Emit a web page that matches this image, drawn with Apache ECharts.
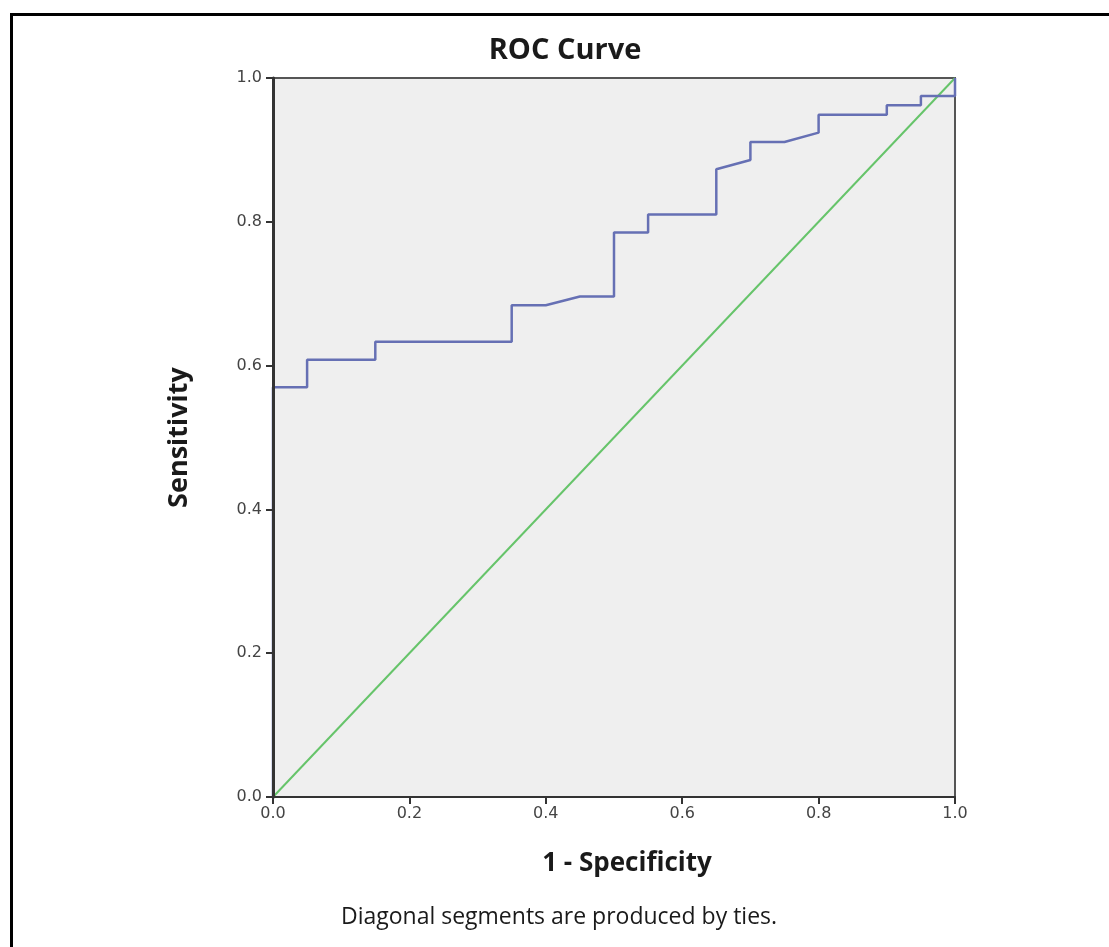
<!DOCTYPE html>
<html>
<head>
<meta charset="utf-8">
<script src="https://cdn.jsdelivr.net/npm/echarts@6/dist/echarts.min.js"></script>
<style>
html,body{margin:0;padding:0;background:#fff;}
#chart{width:1109px;height:947px;}
</style>
</head>
<body>
<div id="chart"></div>
<script>
// 1 - Specificity (false positive rate) of ROC curve vertices
var fpr = [0, 0, 0.05, 0.05, 0.15, 0.15, 0.35, 0.35, 0.40, 0.45, 0.50, 0.50, 0.55, 0.55, 0.65, 0.65, 0.70, 0.70, 0.75, 0.80, 0.80, 0.90, 0.90, 0.95, 0.95, 1.00, 1.00];
// Sensitivity (true positive rate) of ROC curve vertices
var tpr = [0, 0.570, 0.570, 0.608, 0.608, 0.633, 0.633, 0.684, 0.684, 0.696, 0.696, 0.785, 0.785, 0.810, 0.810, 0.873, 0.886, 0.911, 0.911, 0.924, 0.949, 0.949, 0.962, 0.962, 0.975, 0.975, 1.000];
// reference diagonal
var diagX = [0, 1];
var diagY = [0, 1];
var tickLabels = ['0.0', '0.2', '0.4', '0.6', '0.8', '1.0'];

var rocData = fpr.map(function (x, i) { return [x, tpr[i]]; });
var diagData = diagX.map(function (x, i) { return [x, diagY[i]]; });

var chart = echarts.init(document.getElementById('chart'), null, {renderer: 'canvas'});
var labelFmt = function (v) { return tickLabels[Math.round(v * 5)]; };
chart.setOption({
  backgroundColor: '#ffffff',
  animation: false,
  grid: {
    left: 273, top: 78, width: 682, height: 719,
    show: true, backgroundColor: '#efefef', borderColor: '#555555', borderWidth: 2
  },
  xAxis: {
    type: 'value', min: 0, max: 1, interval: 0.2, z: 10,
    name: '1 - Specificity', nameLocation: 'middle', nameGap: 54,
    nameTextStyle: {fontFamily: 'Open Sans', fontWeight: 'bold', fontSize: 26, color: '#1a1a1a', padding: [0, 0, 0, 26]},
    axisLine: {show: true, onZero: false, lineStyle: {color: '#333333', width: 2}},
    axisTick: {show: true, length: 7, lineStyle: {color: '#333333', width: 2}},
    axisLabel: {margin: 9, fontFamily: 'DejaVu Sans', fontSize: 16, color: '#444444', formatter: labelFmt},
    splitLine: {show: false}
  },
  yAxis: {
    type: 'value', min: 0, max: 1, interval: 0.2, z: 10,
    name: 'Sensitivity', nameLocation: 'middle', nameGap: 80, nameRotate: 90,
    nameTextStyle: {fontFamily: 'Open Sans', fontWeight: 'bold', fontSize: 27, color: '#1a1a1a'},
    axisLine: {show: true, onZero: false, lineStyle: {color: '#333333', width: 3}},
    axisTick: {show: true, length: 7, lineStyle: {color: '#333333', width: 2}},
    axisLabel: {margin: 11, fontFamily: 'DejaVu Sans', fontSize: 16, color: '#444444', formatter: labelFmt},
    splitLine: {show: false}
  },
  series: [
    {
      type: 'line', data: diagData, showSymbol: false, symbol: 'none',
      lineStyle: {color: '#66c46a', width: 2}, z: 2
    },
    {
      type: 'line', data: rocData, showSymbol: false, symbol: 'none',
      lineStyle: {color: '#6670b4', width: 2.5}, z: 3
    }
  ],
  graphic: [
    {
      type: 'rect', left: 9, top: 12, silent: true,
      shape: {x: 0, y: 0, width: 1200, height: 1000},
      style: {fill: 'none', stroke: '#000000', lineWidth: 3}
    },
    {
      type: 'text', x: 565, y: 51,
      style: {text: 'ROC Curve', fontFamily: 'Open Sans', fontWeight: 'bold', fontSize: 29,
        fill: '#1a1a1a', textAlign: 'center', textVerticalAlign: 'middle'}
    },
    {
      type: 'text', x: 559, y: 917,
      style: {text: 'Diagonal segments are produced by ties.', fontFamily: 'Open Sans', fontSize: 23,
        fill: '#1a1a1a', textAlign: 'center', textVerticalAlign: 'middle'}
    }
  ]
});
</script>
</body>
</html>
